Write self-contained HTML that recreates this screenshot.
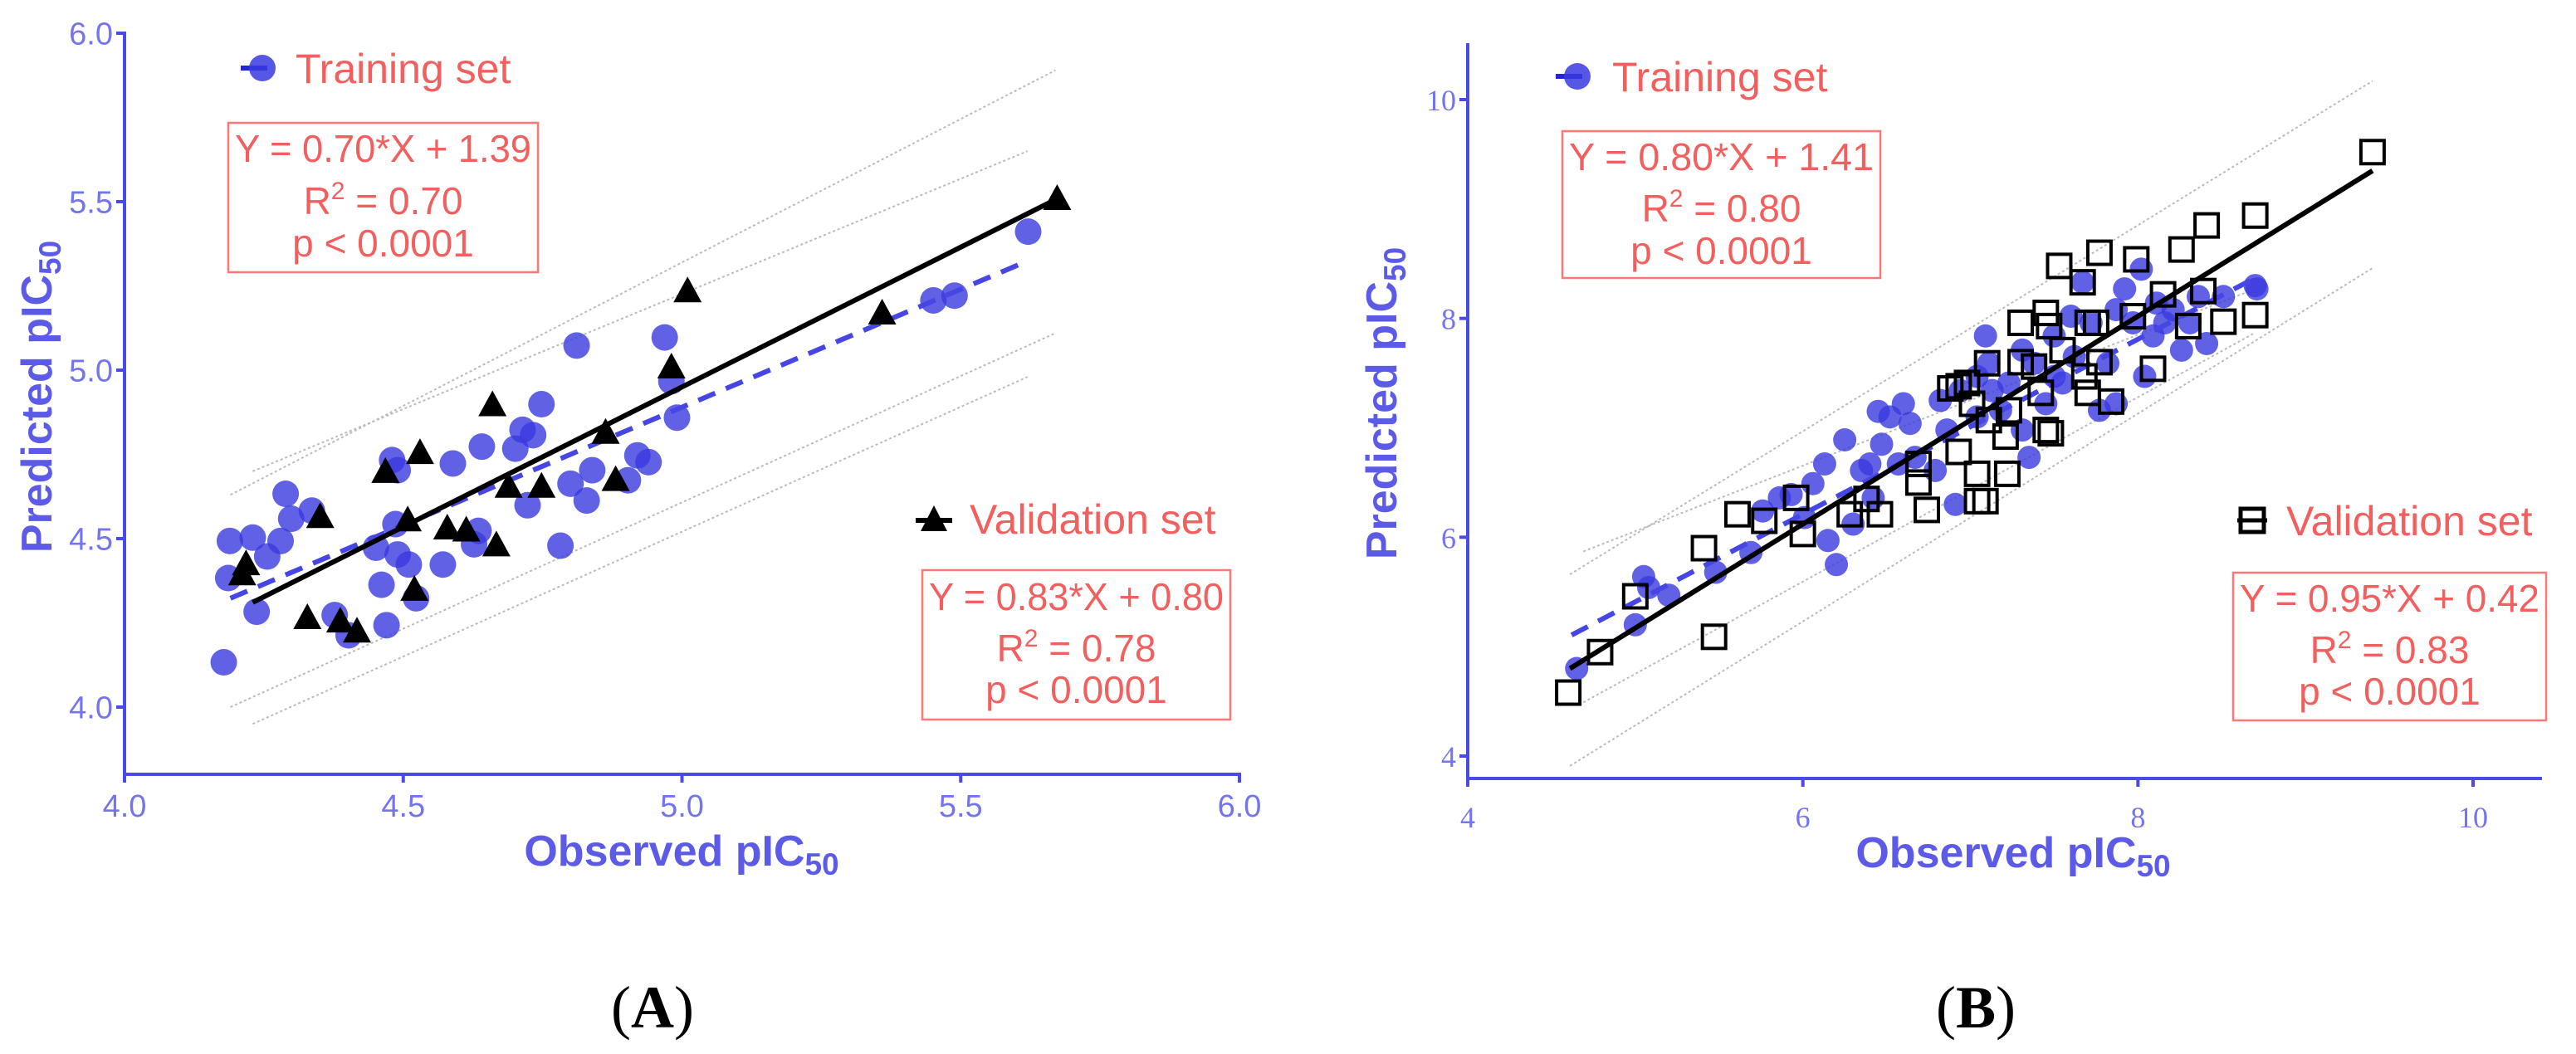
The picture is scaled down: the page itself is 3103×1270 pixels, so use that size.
<!DOCTYPE html>
<html><head><meta charset="utf-8">
<style>
html,body{margin:0;padding:0;background:#fff;}
svg{display:block;}
text{font-family:"Liberation Sans",sans-serif;}
</style></head>
<body>
<svg id="fig" xmlns="http://www.w3.org/2000/svg" width="3103" height="1270" viewBox="0 0 3103 1270">
  <rect width="3103" height="1270" fill="#fff"/>
  <g id="panelA"></g>
  <g id="panelB"></g>
</svg>
<script>
// ---------- Panel A data ----------
const aXTicks = [4.0, 4.5, 5.0, 5.5, 6.0];
const aYTicks = [4.0, 4.5, 5.0, 5.5, 6.0];
const aTickLabels = ["4.0", "4.5", "5.0", "5.5", "6.0"];
const aTrainX = [4.178,4.189,4.186,4.230,4.237,4.256,4.280,4.289,4.299,4.336,4.377,4.402,4.451,4.461,4.470,4.480,4.490,4.486,4.490,4.510,4.523,4.571,4.589,4.627,4.635,4.641,4.701,4.714,4.723,4.733,4.748,4.782,4.800,4.811,4.829,4.839,4.903,4.920,4.940,4.969,4.981,4.991,5.451,5.489,5.621];
const aTrainY = [4.133,4.493,4.383,4.503,4.283,4.447,4.493,4.633,4.559,4.583,4.273,4.213,4.473,4.363,4.243,4.733,4.703,4.543,4.453,4.423,4.323,4.423,4.723,4.483,4.523,4.773,4.767,4.823,4.599,4.807,4.899,4.479,4.663,5.073,4.613,4.703,4.673,4.747,4.727,5.097,4.967,4.859,5.207,5.221,5.411];
const aValX = [4.211,4.218,4.328,4.351,4.387,4.417,4.468,4.508,4.520,4.530,4.579,4.613,4.660,4.667,4.689,4.748,4.863,4.881,4.981,5.010,5.359,5.673];
const aValY = [4.391,4.421,4.261,4.561,4.251,4.221,4.695,4.551,4.345,4.751,4.527,4.521,4.893,4.477,4.651,4.651,4.811,4.671,5.005,5.231,5.165,5.505];
const aTrainFit = [0.70, 1.39];
const aTrainFitRange = [4.19, 5.62];
const aValFit = [0.83, 0.80];
const aValFitRange = [4.23, 5.67];
const aBandX1 = [4.19, 4.23, 4.19, 4.23];
const aBandY1 = [4.63, 4.70, 4.00, 3.95];
const aBandX2 = [5.67, 5.62, 5.67, 5.62];
const aBandY2 = [5.89, 5.65, 5.11, 4.98];

// ---------- Panel B data ----------
const bXTicks = [4, 6, 8, 10];
const bYTicks = [4, 6, 8, 10];
const bTickLabels = ["4", "6", "8", "10"];
const bTrainX = [4.65,5.00,5.05,5.08,5.20,5.48,5.69,5.76,5.86,5.93,6.13,6.15,6.20,6.25,6.30,6.35,6.40,6.42,6.45,6.52,6.57,6.60,6.64,6.67,6.79,6.82,6.86,6.91,6.94,7.04,7.09,7.11,7.13,7.18,7.23,7.31,7.35,7.38,7.45,7.50,7.55,7.60,7.62,7.67,7.72,7.77,7.82,7.87,7.92,7.97,8.02,8.04,8.09,8.16,8.21,8.26,8.36,8.41,8.51,8.70,8.71,8.31,8.11,7.50,7.31,7.04,7.87,6.47,6.06,6.01];
const bTrainY = [4.80,5.20,5.64,5.54,5.47,5.68,5.86,6.24,6.36,6.39,6.67,5.97,5.75,6.89,6.12,6.61,6.67,6.36,7.15,7.10,6.67,7.22,7.04,6.73,6.61,7.25,6.98,6.30,7.34,7.47,7.84,7.59,7.34,7.16,7.41,7.71,6.73,7.59,7.22,7.84,7.41,8.02,7.65,8.33,7.96,7.16,7.59,8.08,8.27,7.96,8.45,7.47,7.84,7.96,8.08,7.71,8.20,7.77,8.20,8.30,8.27,7.96,8.14,7.47,6.98,7.10,7.22,6.85,6.49,6.18];
const bValX = [4.60,4.79,5.00,5.41,5.47,5.61,5.77,5.96,6.00,6.28,6.38,6.46,6.69,6.74,6.69,6.88,6.93,6.98,7.01,6.93,7.04,7.04,7.09,7.10,7.11,7.21,7.22,7.30,7.30,7.23,7.45,7.47,7.38,7.42,7.45,7.48,7.53,7.67,7.70,7.68,7.70,7.77,7.75,7.77,7.84,7.97,7.99,8.09,8.15,8.26,8.30,8.41,8.39,8.51,8.70,8.70,9.40,7.55];
const bValY = [4.58,4.95,5.46,5.90,5.09,6.21,6.15,6.36,6.03,6.21,6.35,6.21,6.50,6.25,6.67,7.36,7.38,7.41,7.22,6.78,6.58,6.33,6.33,7.59,7.07,6.92,6.58,7.96,7.60,7.16,8.05,7.93,7.56,7.32,6.98,6.95,8.48,8.33,7.96,7.47,7.32,8.60,7.96,7.60,7.24,8.02,8.54,7.54,8.22,8.63,7.93,8.85,8.25,7.97,8.94,8.03,9.52,7.71];
const bTrainFit = [0.80, 1.41];
const bTrainFitRange = [4.62, 8.70];
const bValFit = [0.95, 0.42];
const bValFitRange = [4.61, 9.40];
const bBandX1 = [4.61, 4.69, 4.69, 4.61];
const bBandY1 = [5.66, 5.87, 4.49, 3.91];
const bBandX2 = [9.40, 8.70, 8.70, 9.40];
const bBandY2 = [10.17, 8.27, 7.87, 8.46];

const NS = "http://www.w3.org/2000/svg";
const AX = "#4a4ae6", TICK = "#7474ee", RED = "#f25f5f", PT = "#3a3ae0";
function mk(parent, tag, attrs, txt){
  const e = document.createElementNS(NS, tag);
  for (const k in attrs) e.setAttribute(k, attrs[k]);
  if (txt !== undefined) e.textContent = txt;
  parent.appendChild(e); return e;
}
function scale(d0,d1,r0,r1){ return v => r0 + (v-d0)/(d1-d0)*(r1-r0); }

function titleWithSub(parent, x, y, main, rot, name){
  const t = mk(parent,'text',{x:x,y:y,'text-anchor':'middle','font-size':52,'font-weight':'bold',fill:'#5b5be8',
    transform: rot ? `rotate(-90 ${x} ${y})` : ''});
  
  
  mk(t,'tspan',{},main);
  mk(t,'tspan',{'font-size':37,dy:11},'50');
  return t;
}

function statBox(parent, x0, y0, x1, y1, lines, baselines, name){
  const g = mk(parent,'g',{});
  
  
  mk(g,'rect',{x:x0,y:y0,width:x1-x0,height:y1-y0,fill:'none',stroke:'#f77',"stroke-width":2.5});
  const cx = (x0+x1)/2;
  const t1 = mk(g,'text',{x:cx,y:baselines[0],'text-anchor':'middle','font-size':46,fill:RED,textLength:(x1-x0)-16,lengthAdjust:'spacingAndGlyphs'},lines[0]);
  
  
  const t2 = mk(g,'text',{x:cx,y:baselines[1],'text-anchor':'middle','font-size':46,fill:RED});
  
  
  mk(t2,'tspan',{},'R');
  mk(t2,'tspan',{'font-size':30,dy:-18},'2');
  mk(t2,'tspan',{dy:18},' = '+lines[1]);
  const t3 = mk(g,'text',{x:cx,y:baselines[2],'text-anchor':'middle','font-size':46,fill:RED},'p < 0.0001');
  
  
}

function drawPanel(cfg){
  const g = cfg.g;
  const sx = scale(cfg.xd[0],cfg.xd[1],cfg.xr[0],cfg.xr[1]);
  const sy = scale(cfg.yd[0],cfg.yd[1],cfg.yr[0],cfg.yr[1]);
  const ya = mk(g,'line',{x1:cfg.axX,y1:cfg.axTop,x2:cfg.axX,y2:cfg.axY,stroke:AX,'stroke-width':4});
   
  const xa = mk(g,'line',{x1:cfg.axX,y1:cfg.axY,x2:cfg.axRight,y2:cfg.axY,stroke:AX,'stroke-width':4});
   
  cfg.xTicks.forEach((v,i)=>{
    mk(g,'line',{x1:sx(v),y1:cfg.axY,x2:sx(v),y2:cfg.axY+10,stroke:AX,'stroke-width':4});
    const t = mk(g,'text',{x:sx(v),y:cfg.xLabY,'text-anchor':'middle','font-size':cfg.tickFs,fill:TICK,style:'font-family:'+cfg.tickFont},cfg.labels[i]);
     
  });
  cfg.yTicks.forEach((v,i)=>{
    mk(g,'line',{x1:cfg.axX-10,y1:sy(v),x2:cfg.axX,y2:sy(v),stroke:AX,'stroke-width':4});
    const t = mk(g,'text',{x:cfg.axX-14,y:sy(v)+cfg.tickFs*0.36,'text-anchor':'end','font-size':cfg.tickFs,fill:TICK,style:'font-family:'+cfg.tickFont},cfg.labels[i]);
     
  });
  for (let i=0;i<cfg.bx1.length;i++){
    const l = mk(g,'line',{x1:sx(cfg.bx1[i]),y1:sy(cfg.by1[i]),x2:sx(cfg.bx2[i]),y2:sy(cfg.by2[i]),stroke:'#bbb','stroke-width':2,'stroke-dasharray':'3 3'});
     
  }
  for (let i=0;i<cfg.tx.length;i++){
    const c = mk(g,'circle',{cx:sx(cfg.tx[i]),cy:sy(cfg.ty[i]),r:cfg.r,fill:PT,'fill-opacity':0.8});
     
  }
  const f = cfg.tf, fr = cfg.tfr;
  const d1 = mk(g,'line',{x1:sx(fr[0]),y1:sy(f[0]*fr[0]+f[1]),x2:sx(fr[1]),y2:sy(f[0]*fr[1]+f[1]),stroke:'#4646e4','stroke-width':6,'stroke-dasharray':'22 14'});
   
  for (let i=0;i<cfg.vx.length;i++){
    const x = sx(cfg.vx[i]), y = sy(cfg.vy[i]);
    let m;
    if (cfg.shape==='tri'){
      m = mk(g,'polygon',{points:`${x},${y-19} ${x-17},${y+12} ${x+17},${y+12}`,fill:'#000'});
    } else {
      m = mk(g,'rect',{x:x-14,y:y-14,width:28,height:28,fill:'none',stroke:'#000','stroke-width':4});
    }
     
  }
  const v = cfg.vf, vr = cfg.vfr;
  const d2 = mk(g,'line',{x1:sx(vr[0]),y1:sy(v[0]*vr[0]+v[1]),x2:sx(vr[1]),y2:sy(v[0]*vr[1]+v[1]),stroke:'#000','stroke-width':6});
   
}

const gA = document.getElementById('panelA');
drawPanel({g:gA,xd:[4,6],xr:[150,1493],yd:[4,6],yr:[852,40],axX:150,axTop:38,axY:933,axRight:1495,
  xTicks:aXTicks,yTicks:aYTicks,labels:aTickLabels,xLabY:984,tickFs:38,tickFont:'"Liberation Sans", sans-serif',
  bx1:aBandX1,by1:aBandY1,bx2:aBandX2,by2:aBandY2,tx:aTrainX,ty:aTrainY,r:16,tf:aTrainFit,tfr:aTrainFitRange,
  vx:aValX,vy:aValY,shape:'tri',vf:aValFit,vfr:aValFitRange});
const gB = document.getElementById('panelB');
drawPanel({g:gB,xd:[4,10],xr:[1768,2979],yd:[4,10],yr:[911,120],axX:1768,axTop:52,axY:938,axRight:3062,
  xTicks:bXTicks,yTicks:bYTicks,labels:bTickLabels,xLabY:997,tickFs:36,tickFont:'"Liberation Serif", serif',
  bx1:bBandX1,by1:bBandY1,bx2:bBandX2,by2:bBandY2,tx:bTrainX,ty:bTrainY,r:14,tf:bTrainFit,tfr:bTrainFitRange,
  vx:bValX,vy:bValY,shape:'sq',vf:bValFit,vfr:bValFitRange});

titleWithSub(gA, 62, 478, 'Predicted pIC', true, 'y-axis-title');
titleWithSub(gA, 821, 1043, 'Observed pIC', false, 'x-axis-title');
titleWithSub(gB, 1682, 486, 'Predicted pIC', true, 'y-axis-title');
titleWithSub(gB, 2425, 1045, 'Observed pIC', false, 'x-axis-title');

const la = mk(gA,'text',{x:786,y:1238,'text-anchor':'middle','font-size':72,style:'font-family:"Liberation Serif", serif'});
 
mk(la,'tspan',{},'(');mk(la,'tspan',{'font-weight':'bold'},'A');mk(la,'tspan',{},')');
const lb = mk(gB,'text',{x:2380,y:1238,'text-anchor':'middle','font-size':72,style:'font-family:"Liberation Serif", serif'});
 
mk(lb,'tspan',{},'(');mk(lb,'tspan',{'font-weight':'bold'},'B');mk(lb,'tspan',{},')');

function legend(parent, mx, my, tx, ty, label, shape, name){
  const g = mk(parent,'g',{});
  
  
  if (shape==='circle'){
    mk(g,'line',{x1:mx-22,y1:my,x2:mx+10,y2:my,stroke:'#2525d8','stroke-width':6});
    mk(g,'circle',{cx:mx+4,cy:my,r:16,fill:PT,'fill-opacity':0.85});
  } else if (shape==='tri'){
    mk(g,'line',{x1:mx-22,y1:my+2,x2:mx+22,y2:my+2,stroke:'#000','stroke-width':6});
    mk(g,'polygon',{points:`${mx},${my-16} ${mx-16},${my+15} ${mx+16},${my+15}`,fill:'#000'});
  } else {
    mk(g,'line',{x1:mx-18,y1:my,x2:mx+18,y2:my,stroke:'#000','stroke-width':5});
    mk(g,'rect',{x:mx-14,y:my-14,width:28,height:28,fill:'none',stroke:'#000','stroke-width':5});
  }
  mk(g,'text',{x:tx,y:ty,'font-size':50,fill:RED},label);
}
legend(gA, 312, 82, 356, 100, 'Training set', 'circle', 'legend-training');
legend(gA, 1125, 625, 1168, 643, 'Validation set', 'tri', 'legend-validation');
legend(gB, 1896, 92, 1942, 110, 'Training set', 'circle', 'legend-training');
legend(gB, 2713, 627, 2754, 645, 'Validation set', 'sq', 'legend-validation');

statBox(gA, 275, 148, 648, 328, ['Y = 0.70*X + 1.39','0.70'], [195,258,309], 'training-stats-box');
statBox(gA, 1111, 687, 1482, 867, ['Y = 0.83*X + 0.80','0.78'], [735,797,847], 'validation-stats-box');
statBox(gB, 1882, 158, 2265, 335, ['Y = 0.80*X + 1.41','0.80'], [205,267,318], 'training-stats-box');
statBox(gB, 2690, 690, 3067, 868, ['Y = 0.95*X + 0.42','0.83'], [737,799,849], 'validation-stats-box');
</script>
</body></html>
